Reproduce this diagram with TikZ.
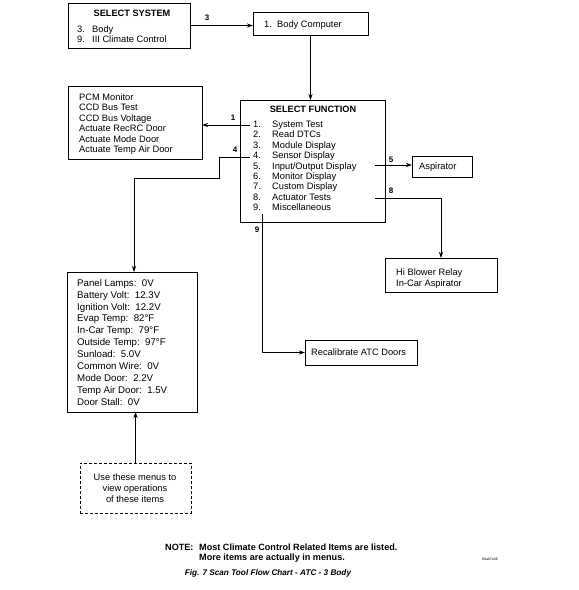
\documentclass[tikz,border=0pt]{standalone}
\usepackage{fontspec}
\setmainfont{Liberation Sans}
\usetikzlibrary{arrows.meta}
\begin{document}
\begin{tikzpicture}[x=1pt,y=-1pt,
 box/.style={draw,line width=0.7pt,rectangle,inner sep=0pt,outer sep=0pt,anchor=north west},
 dbox/.style={box,dash pattern=on 3pt off 2pt},
 txt/.style={anchor=west,inner sep=0pt,text height=6.5pt,text depth=0pt,font=\fontsize{9.3}{11}\selectfont},
 ptxt/.style={txt,font=\fontsize{9.7}{11}\selectfont},
 ctxt/.style={txt,anchor=center},
 ttl/.style={inner sep=0pt,text height=6.5pt,text depth=0pt,font=\fontsize{9.2}{11}\selectfont\bfseries},
 lbl/.style={inner sep=0pt,text height=5.8pt,text depth=0pt,font=\fontsize{8}{10}\selectfont\bfseries},
 note/.style={anchor=west,inner sep=0pt,text height=6.5pt,text depth=0pt,font=\fontsize{9.1}{11}\selectfont\bfseries},
 con/.style={line width=0.7pt},
 arr/.style={con,-{Stealth[length=6pt,width=4pt]}}]
\useasboundingbox (0,0) rectangle (579,590);

% boxes
\node[box,minimum width=122pt,minimum height=45pt] (sys) at (68,3) {};
\node[box,minimum width=115pt,minimum height=23pt] (bc) at (253,12) {};
\node[box,minimum width=145pt,minimum height=122pt] (sf) at (240,100) {};
\node[box,minimum width=134pt,minimum height=73pt] (pcm) at (68,86) {};
\node[box,minimum width=60pt,minimum height=21pt] (asp) at (412,156) {};
\node[box,minimum width=112pt,minimum height=34pt] (hb) at (385,258) {};
\node[box,minimum width=112pt,minimum height=25pt] (rec) at (305,340) {};
\node[box,minimum width=130pt,minimum height=140pt] (pan) at (67,272) {};
\node[dbox,minimum width=111pt,minimum height=50pt] (dash) at (80,463) {};

% SELECT SYSTEM
\node[ttl] (systitle) at (132,13) {SELECT SYSTEM};
\node[txt] (sysa) at (77,29) {\makebox[15pt][l]{3.}Body};
\node[txt] (sysb) at (77,39) {\makebox[15pt][l]{9.}III Climate Control};

% Body computer
\node[txt] (bctxt) at (264,24) {\makebox[13pt][l]{1.}Body Computer};

% SELECT FUNCTION
\node[ttl] (sftitle) at (313,109) {SELECT FUNCTION};
\foreach \t [count=\i] in {System Test,Read DTCs,Module Display,Sensor Display,Input/Output Display,Monitor Display,Custom Display,Actuator Tests,Miscellaneous}{
  \node[txt] (sfi\i) at (253,{124+10.45*(\i-1)}) {\makebox[19pt][l]{\i.}\t};
}

% PCM list
\foreach \t [count=\i] in {PCM Monitor,CCD Bus Test,CCD Bus Voltage,Actuate RecRC Door,Actuate Mode Door,Actuate Temp Air Door}{
  \node[txt] (pcm\i) at (79,{97+10.5*(\i-1)}) {\t};
}

% Aspirator
\node[txt] (asptxt) at (419,166) {Aspirator};

% Hi blower
\node[txt] (hba) at (396,272) {Hi Blower Relay};
\node[txt] (hbb) at (396,283) {In-Car Aspirator};

% Recalibrate
\node[txt] (rectxt) at (311,352) {Recalibrate ATC Doors};

% Panel list
\foreach \t [count=\i] in {Panel Lamps:\ \ 0V,Battery Volt:\ \ 12.3V,Ignition Volt:\ \ 12.2V,Evap Temp:\ \ 82°F,In-Car Temp:\ \ 79°F,Outside Temp:\ \ 97°F,Sunload:\ \ 5.0V,Common Wire:\ \ 0V,Mode Door:\ \ 2.2V,Temp Air Door:\ \ 1.5V,Door Stall:\ \ 0V}{
  \node[ptxt] (pan\i) at (77,{283+11.9*(\i-1)}) {\t};
}

% dashed note box
\node[ctxt] (da) at (135,477) {Use these menus to};
\node[ctxt] (db) at (135,488) {view operations};
\node[ctxt] (dc) at (135,499) {of these items};

% connectors
\draw[arr] (sys.east) -- (sys.east -| bc.west);
\node[lbl] (l3) at (207,18) {3};
\draw[arr] (bc.south) -- (bc.south |- sf.north);

\coordinate (s1) at (250,125);
\draw[arr] (s1) -- (s1 -| pcm.east);
\node[lbl] (l1) at (233,118) {1};

\coordinate (s4) at (250,157);
\coordinate (p4) at ([xshift=2pt]pan.north);
\draw[arr] (s4) -- (219,157) -- (219,178) -| (p4);
\node[lbl] (l4) at (235,150) {4};

\coordinate (s5) at (375,165);
\draw[arr] (s5) -- (s5 -| asp.west);
\node[lbl] (l5) at (391,160) {5};

\coordinate (s8) at (375,198);
\draw[arr] (s8) -| (hb.north);
\node[lbl] (l8) at (391,191) {8};

\coordinate (s9) at (262,214);
\draw[arr] (s9) |- (rec.west);
\node[lbl] (l9) at (257,230) {9};

\draw[arr] (dash.north) -- (dash.north |- pan.south);

% notes
\node[note] (notehd) at (165,547) {NOTE:};
\node[note] (notea) at (199,547) {Most Climate Control Related Items are listed.};
\node[note] (noteb) at (199,557) {More items are actually in menus.};
\node[inner sep=0pt,font=\fontsize{8.2}{10}\selectfont\bfseries\itshape] (cap) at (268,573) {Fig. 7 Scan Tool Flow Chart - ATC - 3 Body};
\node[inner sep=0pt,font=\fontsize{3.5}{4}\selectfont] (code) at (490,559) {80a07a36};
\end{tikzpicture}
\end{document}
